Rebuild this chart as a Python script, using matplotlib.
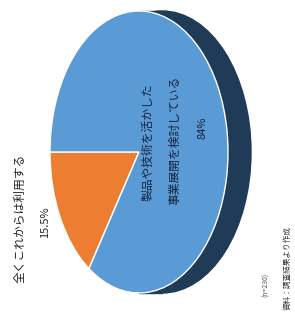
import matplotlib.pyplot as plt
from matplotlib.patches import Ellipse, Rectangle

plt.rcParams['font.family'] = ['Noto Sans CJK JP', 'DejaVu Sans']

# pie data
labels = ['全くこれからは利用する', '製品や技術を活かした\n事業展開を検討している']
shares = [15.5, 84.5]
colors = ['#ed7d31', '#5b9bd5']
side_color = '#1f3b57'

W, H = 295, 317
fig = plt.figure(figsize=(W / 100, H / 100), dpi=100)

# pixel axes for the depth of the pie
ax = fig.add_axes([0, 0, 1, 1])
ax.set_xlim(0, W)
ax.set_ylim(H, 0)
ax.axis('off')

cx, cy, a, b = 139, 152, 89, 141
depth = 23
ax.add_patch(Ellipse((cx + depth, cy), 2 * a, 2 * b, color=side_color, zorder=1))
ax.add_patch(Rectangle((cx, cy - b), depth, 2 * b, color=side_color, zorder=1))

# top face drawn as a pie stretched into an ellipse
pax = fig.add_axes([(cx - a) / W, (H - cy - b) / H, 2 * a / W, 2 * b / H])
pax.pie(shares, colors=colors, startangle=180, counterclock=True,
        wedgeprops=dict(edgecolor='white', linewidth=1.0))
pax.set_aspect('auto')
pax.set_xlim(-1, 1)
pax.set_ylim(-1, 1)
pax.patch.set_alpha(0)

# overlay for the text (chart is turned on its side)
tax = fig.add_axes([0, 0, 1, 1])
tax.set_xlim(0, W)
tax.set_ylim(H, 0)
tax.axis('off')
tax.patch.set_alpha(0)

tax.text(20, 218, labels[0], rotation=90, ha='center', va='center',
         fontsize=8.5, color='#222222')
tax.text(45, 222, f'{shares[0]}%', rotation=90, ha='center', va='center',
         fontsize=8, color='#222222')

blue_lines = labels[1].split('\n')
tax.text(148, 142, blue_lines[0], rotation=90, ha='center', va='center',
         fontsize=8.5, color='#15243d')
tax.text(175, 140, blue_lines[1], rotation=90, ha='center', va='center',
         fontsize=8.5, color='#15243d')
tax.text(202, 128, f'{round(shares[1])}%', rotation=90, ha='center', va='center',
         fontsize=8, color='#15243d')

tax.text(266, 285, '(n=230)', rotation=90, ha='center', va='center',
         fontsize=5, color='#555555')
tax.text(288, 268, '資料：調査結果より作成', rotation=90, ha='center', va='center',
         fontsize=5.5, color='#333333')

fig.savefig('out.png', dpi=100)
